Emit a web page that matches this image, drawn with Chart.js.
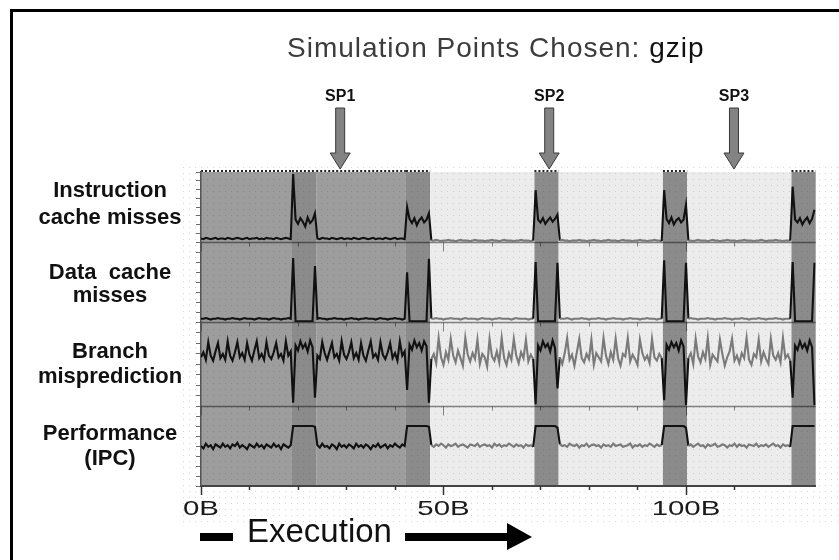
<!DOCTYPE html>
<html>
<head>
<meta charset="utf-8">
<script src="https://cdn.jsdelivr.net/npm/chart.js@4.4.1/dist/chart.umd.min.js"></script>
<style>
  html, body { margin: 0; padding: 0; background: #fff; }
  canvas { display: block; }
</style>
</head>
<body>
<canvas id="c" width="839" height="560"></canvas>
<script>
// Execution is sampled every half billion instructions.
const SAMPLE_STEP = 0.5;
const EXEC_MAX = 126.75;

// Phase boundaries (billions of instructions) and the phase of each interval.
const phaseEdges = [0, 18.75, 23.75, 42.25, 47.25, 68.75, 73.75, 95.25, 100.25, 121.75, 126.75];
const phaseKind  = ['mid', 'dark', 'mid', 'dark', 'light', 'dark', 'light', 'dark', 'light', 'dark'];

// Chosen simulation points.
const simPointNames = ['SP1', 'SP2', 'SP3'];
const simPointB     = [28.7, 71.8, 109.9];

// Execution axis labels.
const axisLabelB    = [0, 50, 100];
const axisLabelText = ['0B', '50B', '100B'];

// Metric names, one per panel (top to bottom).
const panelLabels = [
  ['Instruction', 'cache misses'],
  ['Data  cache', 'misses'],
  ['Branch', 'misprediction'],
  ['Performance', '(IPC)']
];

// Per-panel metric traces (relative scale 0-100 within each panel).
const icacheMisses = [
  5,4,6,5,4,5,6,4,5,5, 4,6,5,4,5,6,5,4,5,6, 4,5,5,6,4,5,4,6,5,5, 4,6,5,4,5,6,5,4,
  97,32,26,34,29,22,35,27,31,41,
  5,4,6,5,5,4,6,5,4,5, 6,4,5,5,4,6,5,4,5,6, 5,4,5,6,4,5,5,4,6,5, 4,5,6,4,5,5,4,
  50,33,27,34,24,31,35,28,32,41,
  2,2,3,2,1,2,2,3,2,2, 1,2,3,2,2,2,1,2,3,2, 2,2,1,2,2,3,2,2,1,2, 3,2,2,2,1,2,2,3,2,2, 2,1,2,
  74,32,28,34,26,31,35,29,33,39,
  2,3,2,2,1,2,2,2,3,2, 2,1,2,2,3,2,2,1,2,2, 3,2,2,2,1,2,3,2,2,2, 1,2,2,3,2,2,1,2,2,3, 2,2,1,
  74,33,27,35,25,31,34,28,32,53,
  2,2,1,2,3,2,2,2,1,2, 3,2,2,1,2,2,3,2,2,2, 1,2,2,3,2,2,2,1,2,2, 3,2,1,2,2,2,3,2,2,1, 2,2,2,
  79,32,28,34,25,31,35,27,33,46
];

const dcacheMisses = [
  4,4,5,4,3,4,4,5,4,4, 3,4,4,5,4,4,3,4,5,4, 4,4,3,4,5,4,4,4,3,4, 5,4,4,3,4,4,5,4,
  80,1,1,1,1,1,1,1,1,70,
  4,5,4,4,3,4,4,5,4,4, 4,3,4,4,5,4,4,3,4,4, 5,4,4,4,3,4,5,4,4,3, 4,4,5,4,4,3,4,
  62,1,1,1,1,1,1,1,1,79,
  4,4,5,4,4,3,4,4,5,4, 4,4,3,4,5,4,4,4,4,3, 4,5,4,4,4,3,4,4,5,4, 4,4,4,3,4,5,4,4,4,4, 3,4,4,
  75,1,1,1,1,1,1,1,1,74,
  4,4,4,5,4,3,4,4,4,5, 4,4,3,4,4,4,5,4,4,3, 4,4,5,4,4,4,3,4,4,5, 4,4,4,3,4,4,5,4,4,4, 3,4,4,
  77,1,1,1,1,1,1,1,1,74,
  4,5,4,4,3,4,4,4,5,4, 4,3,4,4,4,5,4,4,3,4, 4,4,5,4,4,3,4,4,4,5, 4,4,3,4,4,4,5,4,4,3, 4,4,4,
  75,1,1,1,1,1,1,1,1,74
];

const branchMispred = [
  58,64,55,76,60,54,65,75,57,62, 55,77,60,54,64,76,58,63,55,75, 61,54,66,77,57,62,55,76,60,56, 64,75,58,62,54,77,60,65,
  4,72,66,77,69,74,65,78,70,10,
  60,56,76,63,55,65,75,58,62,54, 77,61,56,64,76,57,63,55,75,60, 54,66,77,58,62,55,76,61,56,64, 75,57,63,54,77,60,65,
  19,73,67,78,70,75,66,77,71,4,
  56,62,51,81,58,49,64,55,80,60, 52,66,57,48,81,61,53,63,56,79, 50,62,58,47,80,59,54,65,52,81, 57,49,63,55,80,60,51,64,57,79, 53,61,56,
  2,72,66,77,70,74,65,78,69,21,
  58,50,63,81,55,61,48,64,80,57, 52,62,56,79,49,63,58,53,81,60, 50,64,55,80,57,48,62,59,81,53, 61,56,49,79,63,55,60,51,80,58, 54,62,57,
  7,73,67,76,70,75,66,78,71,1,
  57,63,50,80,59,52,64,56,81,49, 61,57,53,79,62,48,58,65,80,54, 60,51,63,57,81,55,49,62,58,79, 53,64,56,50,80,60,55,63,52,81, 57,61,54,
  10,72,67,77,69,74,66,78,70,1
];

const ipc = [
  50,47,53,49,51,46,52,50,48,53, 49,51,47,52,50,54,48,51,49,46, 52,50,48,53,49,51,47,52,50,48, 53,49,51,46,52,50,48,51,
  75,75,75,75,75,75,75,75,75,74,
  51,48,53,49,50,47,52,50,46,53, 49,51,48,52,50,47,53,49,51,48, 52,50,46,51,49,53,48,50,52,47, 51,49,53,50,48,52,50,
  75,75,75,75,75,75,75,75,75,74,
  51,49,52,50,53,51,48,52,50,51, 53,49,51,52,50,48,52,51,50,53, 49,51,52,50,51,48,53,50,52,49, 51,50,53,51,49,52,50,51,48,52, 50,51,49,
  75,75,75,75,75,75,75,75,75,73,
  52,50,51,49,53,51,50,52,48,51, 50,53,49,51,52,50,51,48,52,50, 51,49,53,50,51,52,49,50,51,53, 48,51,50,52,49,51,50,53,51,49, 52,50,51,
  75,75,75,75,75,75,75,75,75,73,
  50,52,49,51,53,50,51,48,52,50, 51,53,49,50,52,51,48,51,50,53, 49,52,50,51,48,52,51,50,53,49, 51,50,52,49,51,53,50,51,48,52, 50,51,49,
  75,75,75,75,75,75,75,75,75,75
];

// ---- drawing ----
const FONT = '"Liberation Sans", Arial, Helvetica, sans-serif';
const phaseFill = { mid: '#9d9d9d', dark: '#8b8b8b', light: '#ececec' };

function phaseAt(x) {
  for (let i = 0; i < phaseKind.length; i++) {
    if (x >= phaseEdges[i] && x < phaseEdges[i + 1]) return phaseKind[i];
  }
  return phaseKind[phaseKind.length - 1];
}

function toPoints(values) {
  return values.map((v, i) => ({ x: i * SAMPLE_STEP, y: v }));
}

function trace(values, axisId) {
  return {
    data: toPoints(values),
    yAxisID: axisId,
    borderColor: '#111',
    borderWidth: 2.1,
    pointRadius: 0,
    tension: 0,
    segment: {
      borderColor: c => (phaseAt(c.p0.parsed.x) === 'light' && phaseAt(c.p1.parsed.x) === 'light') ? '#7a7a7a' : '#111'
    }
  };
}

function panelAxis(weight) {
  return {
    type: 'linear',
    position: 'left',
    stack: 'panels',
    stackWeight: weight,
    min: 0,
    max: 100,
    ticks: { display: false, stepSize: 12.5, maxTicksLimit: 20 },
    grid: { drawOnChartArea: false, drawTicks: true, tickLength: 5, color: '#6a6a6a', lineWidth: 1 },
    border: { display: true, color: '#555', width: 1.5 },
    afterFit(s) { s.width = 6; }
  };
}

// faint halftone dots of the printed figure
function dotField(ctx, x0, y0, x1, y1, color) {
  ctx.fillStyle = color;
  for (let y = y0; y < y1; y += 6) {
    for (let x = x0; x < x1; x += 6) ctx.fillRect(x, y, 1, 1);
  }
}

const decor = {
  id: 'decor',
  beforeDraw(chart) {
    const { ctx, chartArea: a, scales } = chart;
    const xs = scales.x;
    ctx.save();
    // frame
    ctx.fillStyle = '#000';
    ctx.fillRect(10, 9, 829, 3);
    ctx.fillRect(10, 9, 3, 551);
    dotField(ctx, 183, 167, 839, 522, 'rgba(0,0,0,0.16)');
    // phase backgrounds
    for (let i = 0; i < phaseKind.length; i++) {
      const l = xs.getPixelForValue(phaseEdges[i]);
      const r = xs.getPixelForValue(phaseEdges[i + 1]);
      ctx.fillStyle = phaseFill[phaseKind[i]];
      ctx.fillRect(l, a.top, r - l, a.bottom - a.top);
      ctx.save();
      ctx.beginPath();
      ctx.rect(l, a.top, r - l, a.bottom - a.top);
      ctx.clip();
      dotField(ctx, 183, 167, 839, 522, phaseKind[i] === 'light' ? 'rgba(0,0,0,0.13)' : 'rgba(0,0,0,0.12)');
      ctx.restore();
    }
    // dotted upper edge above the shaded phases
    ctx.setLineDash([2, 2]);
    ctx.strokeStyle = '#222';
    ctx.lineWidth = 2;
    for (let i = 0; i < phaseKind.length; i++) {
      if (phaseKind[i] === 'light') continue;
      const l = xs.getPixelForValue(phaseEdges[i]);
      const r = xs.getPixelForValue(phaseEdges[i + 1]);
      ctx.beginPath();
      ctx.moveTo(l, a.top - 1);
      ctx.lineTo(r, a.top - 1);
      ctx.stroke();
    }
    ctx.setLineDash([]);
    // panel dividers with small execution ticks
    ['yIcache', 'yDcache', 'yBranch'].forEach(id => {
      const y = Math.round(scales[id].bottom) + 0.5;
      ctx.strokeStyle = 'rgba(0,0,0,0.45)';
      ctx.lineWidth = 1.5;
      ctx.beginPath();
      ctx.moveTo(a.left, y);
      ctx.lineTo(a.right, y);
      ctx.stroke();
      ctx.lineWidth = 1;
      xs.ticks.forEach(t => {
        if (t.value % 10 !== 0) return;
        const px = Math.round(xs.getPixelForValue(t.value)) + 0.5;
        ctx.beginPath();
        ctx.moveTo(px, y);
        ctx.lineTo(px, y + (t.value % 50 === 0 ? 9 : 4));
        ctx.stroke();
      });
    });
    ctx.restore();
  },
  afterDraw(chart) {
    const { ctx, chartArea: a, scales } = chart;
    const xs = scales.x;
    ctx.save();
    // execution axis ticks
    ctx.strokeStyle = '#333';
    ctx.lineWidth = 1.5;
    xs.ticks.forEach(t => {
      if (t.value % 10 !== 0) return;
      const px = Math.round(xs.getPixelForValue(t.value)) + 0.5;
      ctx.beginPath();
      ctx.moveTo(px, a.bottom);
      ctx.lineTo(px, a.bottom + (t.value % 50 === 0 ? 9 : 4));
      ctx.stroke();
    });
    // execution axis labels
    ctx.fillStyle = '#1a1a1a';
    ctx.font = '21px ' + FONT;
    ctx.textAlign = 'center';
    ctx.textBaseline = 'alphabetic';
    axisLabelB.forEach((b, i) => {
      ctx.save();
      ctx.translate(xs.getPixelForValue(b), 515);
      ctx.scale(1.4, 1);
      ctx.fillText(axisLabelText[i], 0, 0);
      ctx.restore();
    });
    // "Execution" caption with direction arrow
    ctx.fillStyle = '#111';
    ctx.font = '33px ' + FONT;
    ctx.textAlign = 'left';
    ctx.fillText('Execution', 247, 542);
    ctx.fillStyle = '#000';
    ctx.fillRect(200, 533, 33, 8);
    ctx.fillRect(405, 533, 103, 8);
    ctx.beginPath();
    ctx.moveTo(507, 523);
    ctx.lineTo(532, 537);
    ctx.lineTo(507, 550);
    ctx.closePath();
    ctx.fill();
    // title
    ctx.font = '28px ' + FONT;
    ctx.letterSpacing = '1px';
    ctx.fillStyle = '#3c3c3c';
    const head = 'Simulation Points Chosen: ';
    ctx.fillText(head, 287, 57);
    const w = ctx.measureText(head).width;
    ctx.fillStyle = '#111';
    ctx.fillText('gzip', 287 + w, 57);
    ctx.letterSpacing = '0px';
    // simulation point markers
    simPointB.forEach((b, i) => {
      const cx = xs.getPixelForValue(b);
      ctx.fillStyle = '#111';
      ctx.font = 'bold 16px ' + FONT;
      ctx.textAlign = 'center';
      ctx.fillText(simPointNames[i], cx, 101);
      ctx.beginPath();
      ctx.moveTo(cx - 4.5, 108);
      ctx.lineTo(cx + 4.5, 108);
      ctx.lineTo(cx + 4.5, 153);
      ctx.lineTo(cx + 10, 153);
      ctx.lineTo(cx, 169);
      ctx.lineTo(cx - 10, 153);
      ctx.lineTo(cx - 4.5, 153);
      ctx.closePath();
      ctx.fillStyle = '#838383';
      ctx.fill();
      ctx.strokeStyle = '#3a3a3a';
      ctx.lineWidth = 1;
      ctx.stroke();
    });
    // panel names
    const baselines = [[197, 223.5], [279, 302], [358, 383], [440, 465]];
    ctx.fillStyle = '#111';
    ctx.font = 'bold 22px ' + FONT;
    ctx.textAlign = 'center';
    panelLabels.forEach((lines, i) => {
      lines.forEach((t, j) => ctx.fillText(t, 110, baselines[i][j]));
    });
    ctx.restore();
  }
};

Chart.defaults.font.family = FONT;

new Chart(document.getElementById('c'), {
  type: 'line',
  data: {
    datasets: [
      trace(icacheMisses, 'yIcache'),
      trace(dcacheMisses, 'yDcache'),
      trace(branchMispred, 'yBranch'),
      trace(ipc, 'yIpc')
    ]
  },
  options: {
    responsive: false,
    animation: false,
    events: [],
    layout: { padding: { left: 195, right: 23.3, top: 172, bottom: 72 } },
    plugins: { legend: { display: false }, tooltip: { enabled: false }, title: { display: false } },
    scales: {
      x: {
        type: 'linear',
        min: 0,
        max: EXEC_MAX,
        ticks: { display: false, stepSize: 10 },
        grid: { display: false },
        border: { display: true, color: '#444', width: 2 },
        afterFit(s) { s.height = 2; }
      },
      // stacked bottom-to-top: later entries sit higher
      yIpc: panelAxis(80),
      yBranch: panelAxis(84),
      yDcache: panelAxis(80),
      yIcache: panelAxis(70)
    }
  },
  plugins: [decor]
});
</script>
</body>
</html>
